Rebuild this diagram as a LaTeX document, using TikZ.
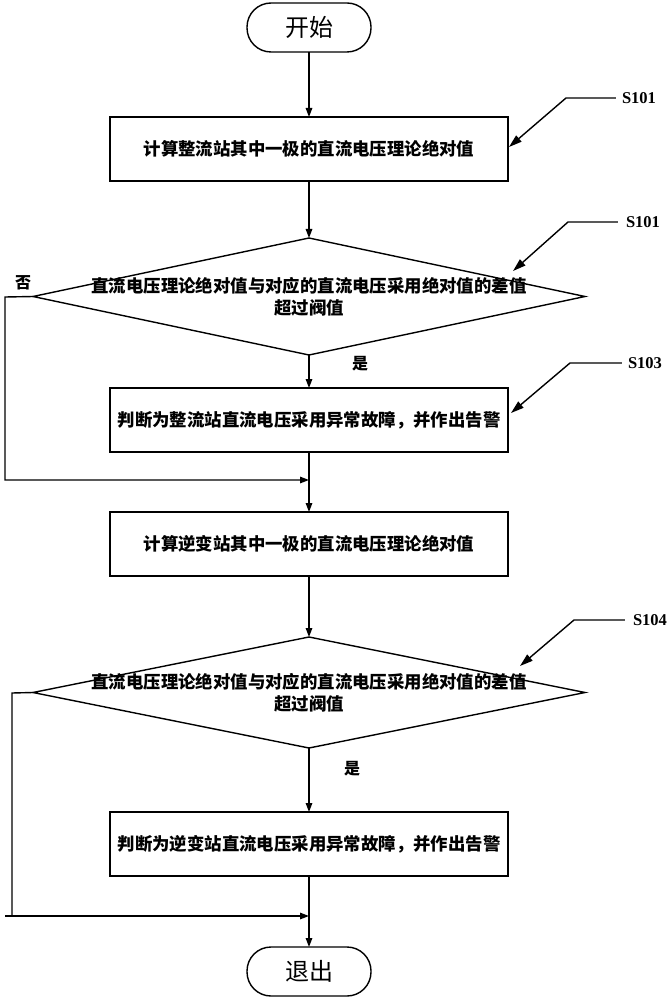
\documentclass[tikz,border=0pt]{standalone}
\usepackage{fontspec}
\setmainfont{Liberation Serif}
\newfontfamily\cjk{Noto Sans CJK SC}
\usetikzlibrary{shapes.geometric,arrows.meta}
\begin{document}
\begin{tikzpicture}[x=1pt,y=-1pt,
  every node/.style={font=\cjk},
  term/.style={draw,line width=1.4pt,rectangle,rounded corners=24pt,minimum width=124pt,minimum height=49pt,inner sep=0pt,outer sep=0pt,font=\cjk\fontsize{24}{26}\selectfont},
  proc/.style={draw,line width=1.4pt,rectangle,minimum width=398pt,minimum height=64pt,inner sep=0pt,outer sep=0pt,font=\cjk\bfseries\fontsize{17.4}{19}\selectfont},
  dia/.style={draw,line width=1.4pt,diamond,minimum width=552pt,inner sep=0pt,outer sep=0pt},
  diatext/.style={align=center,inner sep=0pt,font=\cjk\bfseries\fontsize{17.4}{21.5}\selectfont},
  lab/.style={inner sep=0pt,font=\cjk\bfseries\fontsize{16}{17}\selectfont},
  slab/.style={inner sep=0pt,font=\bfseries\fontsize{16.5}{18}\selectfont},
  flow/.style={line width=1.4pt,-{Triangle[length=9pt,width=6.5pt]}},
  plain/.style={line width=1.4pt},
  callout/.style={line width=1.4pt,-{Triangle[length=13pt,width=8pt]}}
]
\useasboundingbox (0,0) rectangle (668,1000);

% main nodes
\node[term] (start) at (309,27.5) {开始};
\node[proc] (b1) at (309,149) {计算整流站其中一极的直流电压理论绝对值};
\node[dia,minimum height=117pt] (d1) at (309,296.5) {};
\node[diatext] (d1t) at (309,297) {直流电压理论绝对值与对应的直流电压采用绝对值的差值\\超过阀值};
\node[proc] (b2) at (309,420) {判断为整流站直流电压采用异常故障，并作出告警};
\node[proc] (b3) at (309,544) {计算逆变站其中一极的直流电压理论绝对值};
\node[dia,minimum height=111pt] (d2) at (309,692.5) {};
\node[diatext] (d2t) at (309,693) {直流电压理论绝对值与对应的直流电压采用绝对值的差值\\超过阀值};
\node[proc] (b4) at (309,844) {判断为逆变站直流电压采用异常故障，并作出告警};
\node[term] (stop) at (309,971.5) {退出};

% labels
\node[lab] (no1) at (23,283) {否};
\node[lab] (yes1) at (360,364) {是};
\node[lab] (yes2) at (352,769) {是};

% junctions
\coordinate (j1) at (309,480);
\coordinate (j2) at (309,916);
\coordinate (c1) at (5,297);
\coordinate (c2) at (5,480);
\coordinate (c3) at (12,693);
\coordinate (c4) at (12,916);
\coordinate (c5) at (5,916);

% flow connectors
\draw[flow] (start) -- (b1);
\draw[flow] (b1) -- (d1.north);
\draw[flow] (d1.south) -- (b2);
\draw[flow] (b2) -- (b3);
\draw[flow] (d1.west) -- (c1) -- (c2) -- (j1);
\draw[flow] (b3) -- (d2.north);
\draw[flow] (d2.south) -- (b4);
\draw[flow] (b4) -- (stop);
\draw[plain] (d2.west) -- (c3) -- (c4);
\draw[flow] (c5) -- (j2);

% step labels
\node[slab] (s1) at (639,98) {S101};
\coordinate (s1a) at (566,98);
\coordinate (s1b) at (509,147);
\draw[callout] (s1.west) ++(-6,0) -- (s1a) -- (s1b);

\node[slab] (s2) at (643,222) {S101};
\coordinate (s2a) at (568,222);
\coordinate (s2b) at (513,271);
\draw[callout] (s2.west) ++(-8,0) -- (s2a) -- (s2b);

\node[slab] (s3) at (645,363) {S103};
\coordinate (s3a) at (570,363);
\coordinate (s3b) at (511,413);
\draw[callout] (s3.west) ++(-6,0) -- (s3a) -- (s3b);

\node[slab] (s4) at (650,620) {S104};
\coordinate (s4a) at (574,620);
\coordinate (s4b) at (520,666);
\draw[callout] (s4.west) ++(-8,0) -- (s4a) -- (s4b);
\end{tikzpicture}
\end{document}
